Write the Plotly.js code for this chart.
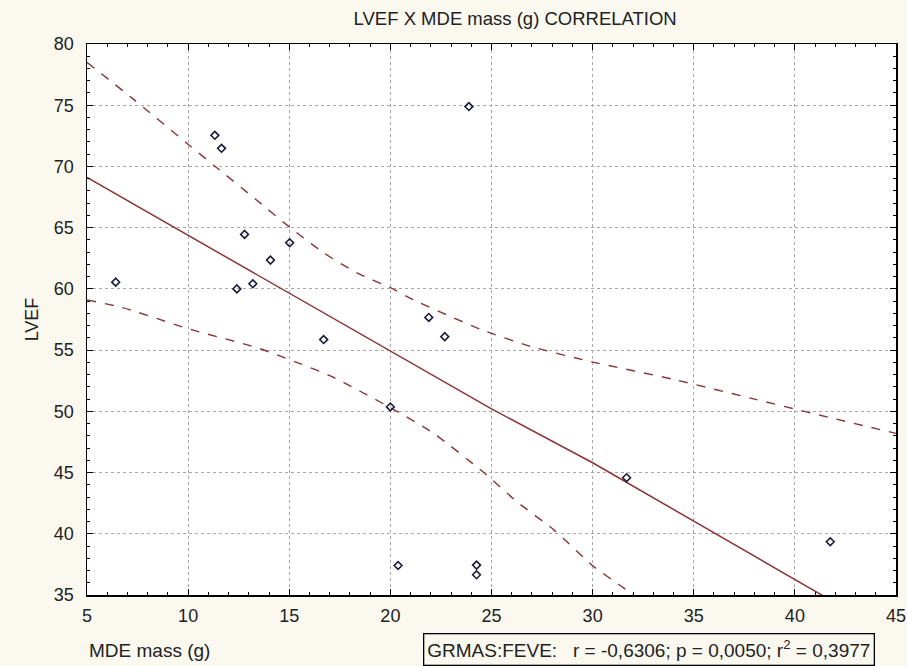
<!DOCTYPE html>
<html>
<head>
<meta charset="utf-8">
<script src="https://cdn.plot.ly/plotly-3.0.1.min.js"></script>
<style>html,body{margin:0;padding:0;background:#fbf9ef;}#chart{width:907px;height:666px;}</style>
</head>
<body>
<div id="chart"></div>
<script>
// Observations (MDE mass in g, LVEF)
const mdeMass = [6.42, 11.32, 11.65, 12.79, 15.02, 14.07, 13.2, 12.41, 16.7, 23.88, 21.9, 22.69, 20.0, 20.38, 24.26, 24.26, 31.68, 41.75];
const lvef    = [60.55, 72.54, 71.48, 64.45, 63.77, 62.35, 60.42, 60.0, 55.86, 74.89, 57.67, 56.1, 50.36, 37.41, 37.44, 36.65, 44.58, 39.35];

// Regression line
const fitX = [5, 25, 30, 45];
const fitY = [69.1, 50.2, 45.8, 31.5];

// Upper 95% confidence band
const upX = [5, 7.29, 9.93, 11.34, 13.35, 15.05, 16.7, 18.35, 20.0, 21.15, 24.46, 26.93, 30.07, 34.03, 38.0, 41.95, 45];
const upY = [78.5, 75.5, 71.9, 70.0, 67.3, 65.0, 62.95, 61.3, 60.1, 59.1, 56.7, 55.3, 54.0, 52.6, 51.0, 49.4, 48.2];

// Lower 95% confidence band
const loX = [5, 6.8, 10.1, 13.4, 15.05, 17.03, 20.0, 22.14, 24.62, 26.27, 28.1, 30.07, 31.55, 32.5];
const loY = [59.1, 58.45, 56.7, 55.2, 54.2, 52.9, 50.3, 48.2, 45.0, 42.6, 40.3, 37.3, 35.56, 34.3];

const xTicks = [5, 10, 15, 20, 25, 30, 35, 40, 45];
const yTicks = [35, 40, 45, 50, 55, 60, 65, 70, 75, 80];

const lineColor = '#8a3434';
const font = 'Liberation Sans, Arial, sans-serif';

const traces = [
  {x: upX, y: upY, mode: 'lines', line: {color: lineColor, width: 1.4, dash: 'dash', shape: 'spline', smoothing: 0.6}, hoverinfo: 'skip'},
  {x: loX, y: loY, mode: 'lines', line: {color: lineColor, width: 1.4, dash: 'dash', shape: 'spline', smoothing: 0.6}, hoverinfo: 'skip'},
  {x: fitX, y: fitY, mode: 'lines', line: {color: lineColor, width: 1.5}, hoverinfo: 'skip'},
  {x: mdeMass, y: lvef, mode: 'markers', marker: {symbol: 'diamond-open', size: 6, color: '#1c1c3c', line: {width: 1.6, color: '#1c1c3c'}}}
];

const axisCommon = {
  showline: true, linecolor: '#000', linewidth: 1.5, mirror: 'allticks',
  ticks: 'inside', ticklen: 6, tickcolor: '#000', tickwidth: 1,
  showgrid: true, gridcolor: '#a8a8a8', griddash: 'dot', gridwidth: 1,
  zeroline: false, tickfont: {family: font, size: 18, color: '#222'},
  minor: {dtick: 1, ticks: 'inside', ticklen: 3, tickcolor: '#000', showgrid: false}
};

const layout = {
  width: 907, height: 666,
  paper_bgcolor: '#fbf9ef', plot_bgcolor: '#ffffff',
  margin: {l: 87, r: 11, t: 44, b: 71},
  showlegend: false,
  title: {text: 'LVEF X MDE mass (g) CORRELATION', font: {family: font, size: 18.5, color: '#222'}, x: 0.568, xanchor: 'center', y: 0.972, yanchor: 'middle'},
  xaxis: Object.assign({}, axisCommon, {range: [5, 45], tickvals: xTicks, ticklabelstandoff: 4}),
  yaxis: Object.assign({}, axisCommon, {range: [35, 80], tickvals: yTicks, ticklabelstandoff: 8,
    title: {text: 'LVEF', font: {family: font, size: 18, color: '#222'}, standoff: 10}}),
  annotations: [
    {xref: 'paper', yref: 'paper', x: 0, y: -0.1, xanchor: 'left', yanchor: 'middle', showarrow: false,
     text: 'MDE mass (g)', font: {family: font, size: 19, color: '#222'}},
    {xref: 'paper', yref: 'paper', x: 0.695, y: -0.069, xanchor: 'center', yanchor: 'top', showarrow: false,
     text: 'GRMAS:FEVE:&nbsp;&nbsp; r = -0,6306; p = 0,0050; r<sup>2</sup> = 0,3977',
     font: {family: font, size: 19, color: '#222'}, bordercolor: '#000', borderwidth: 1.3, borderpad: 3, bgcolor: '#fbf9ef'}
  ]
};

Plotly.newPlot('chart', traces, layout, {displayModeBar: false, staticPlot: true});
</script>
</body>
</html>
